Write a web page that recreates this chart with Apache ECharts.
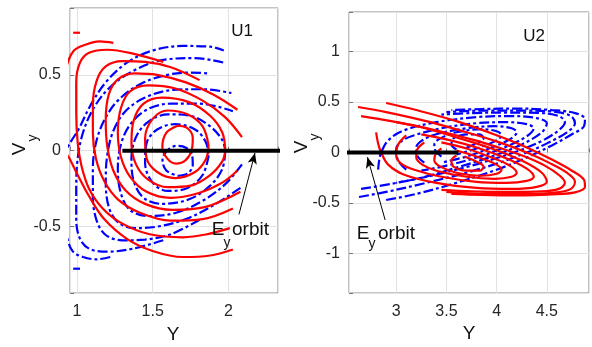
<!DOCTYPE html>
<html>
<head>
<meta charset="utf-8">
<script src="https://cdn.jsdelivr.net/npm/echarts@6/dist/echarts.min.js"></script>
<style>
  html, body { margin: 0; background: #fff; }
  #chart { width: 592px; height: 347px; }
</style>
</head>
<body>
<div id="chart"></div>
<script>
// ---- U1 panel, each curve is a list of [Y, Vy] points ----
const u1Red = [
  [[1.665,0.165],[1.73,0.148],[1.765,0.085],[1.758,0.005],[1.718,-0.062],[1.655,-0.085],[1.597,-0.052],[1.564,0.025],[1.59,0.118],[1.665,0.165]],
  [[1.87,0.03],[1.83,0.16],[1.73,0.24],[1.6,0.265],[1.5,0.21],[1.45,0.08],[1.46,-0.05],[1.53,-0.14],[1.65,-0.18],[1.78,-0.14],[1.85,-0.06],[1.87,0.03]],
  [[1.98,0.0],[1.96,0.12],[1.88,0.23],[1.74,0.32],[1.56,0.35],[1.44,0.31],[1.375,0.2],[1.36,0.05],[1.39,-0.09],[1.47,-0.19],[1.6,-0.24],[1.75,-0.23],[1.88,-0.16],[1.96,-0.07],[1.98,0.0]],
  [[2.09,0.09],[1.98,0.22],[1.83,0.33],[1.65,0.41],[1.47,0.43],[1.35,0.39],[1.29,0.28],[1.27,0.12],[1.29,-0.04],[1.35,-0.17],[1.46,-0.27],[1.62,-0.31],[1.8,-0.28],[1.96,-0.21],[2.06,-0.13]],
  [[2.06,0.27],[1.9,0.37],[1.72,0.45],[1.53,0.5],[1.38,0.51],[1.27,0.47],[1.21,0.37],[1.19,0.2],[1.2,0.03],[1.24,-0.13],[1.32,-0.26],[1.45,-0.35],[1.63,-0.39],[1.85,-0.37],[2.08,-0.27]],
  [[1.81,0.465],[1.62,0.55],[1.45,0.585],[1.3,0.59],[1.19,0.555],[1.13,0.46],[1.105,0.3],[1.105,0.12],[1.125,-0.05],[1.18,-0.2],[1.27,-0.32],[1.42,-0.41],[1.62,-0.46],[1.83,-0.45],[2.03,-0.38]],
  [[1.57,0.585],[1.37,0.64],[1.2,0.665],[1.08,0.645],[1.02,0.58],[0.995,0.45],[0.995,0.25],[1.005,0.05],[1.03,-0.1],[1.08,-0.25],[1.17,-0.38],[1.3,-0.48],[1.48,-0.55],[1.7,-0.57],[1.86,-0.55],[2.01,-0.51]],
  [[1.24,0.71],[1.15,0.72],[1.06,0.7],[0.98,0.66],[0.93,0.55],[0.9,0.35],[0.9,0.15],[0.92,0.0],[0.95,-0.05],[1.0,-0.15],[1.08,-0.3],[1.18,-0.45],[1.33,-0.58],[1.5,-0.66],[1.7,-0.7],[1.88,-0.69],[2.03,-0.65]],
  [[0.975,0.777],[1.02,0.777]]
];
const u1Blue = [
  [[1.665,-0.165],[1.73,-0.15],[1.765,-0.095],[1.76,-0.025],[1.72,0.02],[1.66,0.032],[1.6,0.005],[1.565,-0.06],[1.59,-0.13],[1.665,-0.165]],
  [[1.87,-0.03],[1.83,-0.16],[1.73,-0.245],[1.6,-0.265],[1.5,-0.21],[1.45,-0.08],[1.46,0.05],[1.53,0.14],[1.65,0.175],[1.78,0.14],[1.85,0.06],[1.87,-0.03]],
  [[1.98,0.0],[1.96,-0.12],[1.88,-0.23],[1.74,-0.32],[1.56,-0.35],[1.44,-0.31],[1.375,-0.2],[1.36,-0.05],[1.39,0.09],[1.47,0.19],[1.6,0.24],[1.75,0.23],[1.88,0.16],[1.96,0.07],[1.98,0.0]],
  [[2.09,-0.09],[1.98,-0.22],[1.83,-0.33],[1.65,-0.41],[1.47,-0.43],[1.35,-0.39],[1.29,-0.28],[1.27,-0.12],[1.29,0.04],[1.35,0.17],[1.46,0.27],[1.62,0.31],[1.8,0.31],[1.93,0.29],[2.03,0.26]],
  [[2.08,-0.245],[1.9,-0.36],[1.72,-0.45],[1.53,-0.5],[1.38,-0.51],[1.27,-0.47],[1.21,-0.37],[1.19,-0.2],[1.2,-0.03],[1.24,0.13],[1.32,0.26],[1.45,0.35],[1.63,0.4],[1.83,0.405],[2.02,0.38]],
  [[1.81,-0.455],[1.62,-0.55],[1.45,-0.585],[1.3,-0.59],[1.19,-0.555],[1.13,-0.46],[1.105,-0.3],[1.105,-0.12],[1.125,0.05],[1.18,0.2],[1.27,0.33],[1.42,0.44],[1.6,0.5],[1.75,0.515],[1.86,0.51]],
  [[1.57,-0.59],[1.37,-0.645],[1.2,-0.665],[1.08,-0.645],[1.02,-0.58],[0.995,-0.45],[0.995,-0.25],[1.005,-0.05],[1.04,0.12],[1.11,0.28],[1.22,0.42],[1.38,0.53],[1.58,0.6],[1.78,0.61],[1.97,0.58]],
  [[1.22,-0.7],[1.13,-0.715],[1.04,-0.7],[0.97,-0.66],[0.93,-0.55],[0.9,-0.35],[0.9,-0.15],[0.93,0.0],[0.96,0.06],[1.01,0.14],[1.09,0.3],[1.19,0.45],[1.33,0.58],[1.5,0.66],[1.7,0.69],[1.88,0.685],[1.97,0.66]],
  [[0.975,-0.777],[1.02,-0.777]]
];
const u1Orbit = [[1.3,0],[2.4,0]];
const u1Arrow = [[2.07,-0.42],[2.176,-0.015]];

// ---- U2 panel ----
const u2Red = [
  [[2.9,0.49],[3.2,0.42],[3.6,0.31],[4.0,0.17],[4.3,0.05],[4.55,-0.07],[4.75,-0.18],[4.87,-0.27],[4.88,-0.34],[4.78,-0.395],[4.55,-0.415],[4.2,-0.425],[3.85,-0.42],[3.55,-0.41]],
  [[2.62,0.45],[2.9,0.4],[3.3,0.31],[3.7,0.2],[4.0,0.11],[4.3,0.0],[4.52,-0.1],[4.7,-0.2],[4.78,-0.29],[4.74,-0.36],[4.6,-0.395],[4.3,-0.41],[3.9,-0.41],[3.5,-0.39]],
  [[2.65,0.36],[2.95,0.31],[3.35,0.23],[3.75,0.13],[4.05,0.04],[4.28,-0.04],[4.48,-0.13],[4.63,-0.23],[4.68,-0.3],[4.62,-0.36],[4.45,-0.385],[4.1,-0.39],[3.75,-0.385],[3.45,-0.37]],
  [[2.8,0.2],[2.82,0.09],[2.85,0.0],[2.92,-0.12],[3.08,-0.22],[3.4,-0.3],[3.8,-0.35],[4.15,-0.36],[4.4,-0.34],[4.5,-0.29],[4.45,-0.2],[4.25,-0.08],[3.95,0.04],[3.6,0.15],[3.25,0.25],[3.0,0.3]],
  [[3.1,0.17],[3.02,0.08],[3.0,-0.03],[3.05,-0.11],[3.18,-0.17],[3.45,-0.24],[3.8,-0.29],[4.1,-0.3],[4.3,-0.28],[4.37,-0.24],[4.3,-0.16],[4.1,-0.06],[3.8,0.05],[3.5,0.13],[3.25,0.18]],
  [[3.28,0.1],[3.21,0.03],[3.2,-0.05],[3.26,-0.12],[3.4,-0.18],[3.7,-0.24],[3.98,-0.26],[4.15,-0.24],[4.2,-0.2],[4.13,-0.13],[3.95,-0.05],[3.7,0.04],[3.45,0.1]],
  [[3.45,0.04],[3.39,-0.02],[3.38,-0.08],[3.44,-0.14],[3.6,-0.2],[3.85,-0.23],[4.0,-0.21],[4.05,-0.17],[3.98,-0.11],[3.8,-0.04],[3.6,0.02]],
  [[3.6,-0.03],[3.55,-0.08],[3.57,-0.14],[3.7,-0.18],[3.83,-0.18],[3.87,-0.14],[3.8,-0.09],[3.68,-0.04]]
];
const u2Blue = [
  [[2.9,-0.47],[3.2,-0.41],[3.6,-0.3],[4.0,-0.17],[4.3,-0.05],[4.55,0.07],[4.75,0.18],[4.87,0.26],[4.88,0.33],[4.78,0.39],[4.55,0.42],[4.2,0.435],[3.85,0.43],[3.55,0.42]],
  [[2.63,-0.44],[2.9,-0.39],[3.3,-0.3],[3.7,-0.2],[4.0,-0.11],[4.3,0.0],[4.52,0.1],[4.7,0.2],[4.78,0.29],[4.74,0.36],[4.6,0.4],[4.3,0.415],[3.9,0.415],[3.5,0.4]],
  [[2.65,-0.36],[2.95,-0.31],[3.35,-0.23],[3.75,-0.13],[4.05,-0.04],[4.28,0.04],[4.48,0.13],[4.63,0.23],[4.68,0.3],[4.62,0.36],[4.45,0.39],[4.1,0.395],[3.75,0.39],[3.45,0.375]],
  [[2.82,-0.17],[2.83,-0.08],[2.85,0.0],[2.92,0.12],[3.08,0.22],[3.4,0.3],[3.8,0.35],[4.15,0.36],[4.4,0.34],[4.5,0.29],[4.45,0.2],[4.25,0.08],[3.95,-0.04],[3.6,-0.15],[3.25,-0.25],[3.0,-0.3]],
  [[3.1,-0.17],[3.02,-0.08],[3.0,0.03],[3.05,0.11],[3.18,0.17],[3.45,0.24],[3.8,0.29],[4.1,0.3],[4.3,0.28],[4.37,0.24],[4.3,0.16],[4.1,0.06],[3.8,-0.05],[3.5,-0.13],[3.25,-0.18]],
  [[3.28,-0.1],[3.21,-0.03],[3.2,0.05],[3.26,0.12],[3.4,0.18],[3.7,0.24],[3.98,0.26],[4.15,0.24],[4.2,0.2],[4.13,0.13],[3.95,0.05],[3.7,-0.04],[3.45,-0.1]],
  [[3.45,-0.04],[3.39,0.02],[3.38,0.08],[3.44,0.14],[3.6,0.2],[3.85,0.23],[4.0,0.21],[4.05,0.17],[3.98,0.11],[3.8,0.04],[3.6,-0.02]],
  [[3.6,0.03],[3.55,0.08],[3.57,0.14],[3.7,0.18],[3.83,0.18],[3.87,0.14],[3.8,0.09],[3.68,0.04]]
];
const u2Orbit = [[2.4,0],[3.62,0]];
const u2Arrow = [[2.89,-0.668],[2.714,-0.046]];

const FONT = "'Liberation Sans', Arial, Helvetica, sans-serif";

const chart = echarts.init(document.getElementById('chart'));

// one line series per curve
function curves(list, color, dashed, idx) {
  return list.map(pts => ({
    type: 'line',
    xAxisIndex: idx,
    yAxisIndex: idx,
    data: pts,
    smooth: 0.35,
    symbol: 'none',
    silent: true,
    clip: true,
    lineStyle: { color: color, width: 2.2, type: dashed ? [10, 3, 3, 3] : 'solid' }
  }))
}

function orbit(pts, arrow, idx) {
  return {
    type: 'line',
    xAxisIndex: idx,
    yAxisIndex: idx,
    data: pts,
    symbol: 'none',
    silent: true,
    clip: true,
    z: 5,
    lineStyle: { color: '#000', width: 4 },
    markLine: {
      silent: true,
      symbol: ['none', 'arrow'],
      symbolSize: [7, 11],
      label: { show: false },
      lineStyle: { color: '#000', width: 1, type: 'solid' },
      data: [[{ coord: arrow[0] }, { coord: arrow[1] }]]
    }
  }
}

function tickFmt(v) {
  // only label the 0.5 steps, not the axis ends
  return Math.abs(v * 2 - Math.round(v * 2)) < 1e-6 ? String(Math.round(v * 10) / 10) : ''
}

function xAxis(idx, min, max) {
  return {
    gridIndex: idx, type: 'value', min: min, max: max,
    minInterval: 0.5, maxInterval: 0.5,
    axisLine: { show: false },
    axisTick: { inside: true, length: 4, lineStyle: { color: '#777' } },
    axisLabel: { color: '#262626', fontSize: 16, fontFamily: FONT, margin: 11, formatter: tickFmt },
    splitLine: { show: true, lineStyle: { color: '#e2e2e2' } }
  }
}
function yAxis(idx, min, max) {
  return {
    gridIndex: idx, type: 'value', min: min, max: max,
    minInterval: 0.5, maxInterval: 0.5,
    axisLine: { show: false },
    axisTick: { inside: true, length: 4, lineStyle: { color: '#777' } },
    axisLabel: { color: '#262626', fontSize: 16, fontFamily: FONT, margin: 9, formatter: tickFmt },
    splitLine: { show: true, lineStyle: { color: '#e2e2e2' } }
  }
}

function txt(x, y, text, size, extra) {
  return Object.assign({
    type: 'text', x: x, y: y, silent: true, z: 10,
    style: { text: text, fontSize: size, fontFamily: FONT, fill: '#111', align: 'center', verticalAlign: 'middle' }
  }, extra || {})
}
function leftTxt(x, y, text, size) {
  return {
    type: 'text', x: x, y: y, silent: true, z: 10,
    style: { text: text, fontSize: size, fontFamily: FONT, fill: '#111', align: 'left', verticalAlign: 'middle' }
  }
}

chart.setOption({
  animation: false,
  backgroundColor: '#fff',
  grid: [
    { left: 70, top: 8, width: 208, height: 285, show: true, borderColor: '#888', borderWidth: 1 },
    { left: 349, top: 12, width: 242, height: 281, show: true, borderColor: '#888', borderWidth: 1 }
  ],
  xAxis: [xAxis(0, 0.954, 2.328), xAxis(1, 2.53, 4.92)],
  yAxis: [yAxis(0, -0.937, 0.94), yAxis(1, -1.39, 1.39)],
  series: [
    ...curves(u1Blue, '#0000ff', true, 0),
    ...curves(u1Red, '#ff0000', false, 0),
    orbit(u1Orbit, u1Arrow, 0),
    ...curves(u2Blue, '#0000ff', true, 1),
    ...curves(u2Red, '#ff0000', false, 1),
    orbit(u2Orbit, u2Arrow, 1)
  ],
  graphic: [
    txt(242, 31, 'U1', 17),
    txt(534, 36, 'U2', 17),
    txt(173, 335, 'Y', 19),
    txt(469, 334, 'Y', 19),
    txt(20, 149, 'V', 19, { rotation: Math.PI / 2 }),
    txt(33, 138, 'y', 14, { rotation: Math.PI / 2 }),
    txt(302, 147, 'V', 19, { rotation: Math.PI / 2 }),
    txt(315, 137, 'y', 14, { rotation: Math.PI / 2 }),
    txt(218, 230, 'E', 19),
    txt(227, 243, 'y', 14),
    leftTxt(232, 230, 'orbit', 19),
    txt(363, 234, 'E', 19),
    txt(372, 244, 'y', 14),
    leftTxt(378, 234, 'orbit', 19)
  ]
});
</script>
</body>
</html>
